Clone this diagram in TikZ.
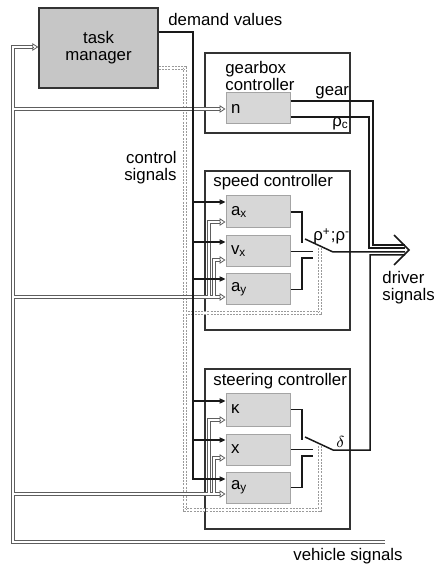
\documentclass[tikz,border=0pt]{standalone}
\usepackage{fontspec}
\setmainfont{Liberation Sans}
\usetikzlibrary{arrows.meta}

\definecolor{tmgray}{HTML}{C6C6C6}
\definecolor{boxgray}{HTML}{D7D7D7}
\definecolor{edgegray}{HTML}{A4A4A4}
\definecolor{busgray}{HTML}{5E5E5E}
\definecolor{ctrlgray}{HTML}{9A9A9A}

\begin{document}
\begin{tikzpicture}[x=0.5pt,y=-0.5pt,
    font=\fontsize{8.4}{8.6}\selectfont,
    tmbox/.style={draw=black!80,fill=tmgray,line width=0.7pt,minimum width=59.5pt,minimum height=40pt,align=center},
    unit/.style={draw=black!80,line width=0.8pt,inner sep=0pt},
    block/.style={draw=edgegray,fill=boxgray,line width=0.5pt,minimum height=15.5pt,text width=27pt,inner xsep=2.5pt,inner ysep=0pt,align=left},
    sig/.style={draw=black!90,line width=0.75pt},
    sigtip/.style={sig,-{Triangle[length=3pt,width=2.6pt]}},
    vbus/.style={draw=busgray,line width=0.45pt,double=white,double distance=1.1pt},
    vtip/.style={draw=busgray,line width=0.4pt,-{Triangle[open,length=3pt,width=3.8pt]}},
    cbus/.style={draw=ctrlgray,line width=0.4pt,double=white,double distance=1.2pt,dash pattern=on 1pt off 0.6pt},
    lbl/.style={inner sep=0pt,align=left}]
\useasboundingbox (0,0) rectangle (433,565);

% controllers
\node[tmbox] (tm) at (98.5,48) {task\\manager};
\node[unit,minimum width=72.5pt,minimum height=40pt] (gbox) at (277.5,93) {};
\node[unit,minimum width=72.5pt,minimum height=79.5pt] (sbox) at (277.5,250.5) {};
\node[unit,minimum width=72.5pt,minimum height=80pt] (stbox) at (277.5,449) {};

% inner blocks
\node[block] (n) at (258,108.5) {n};
\node[block,minimum height=16pt] (ax) at (258,212) {a\textsubscript{x}};
\node[block] (vx) at (258,251.5) {v\textsubscript{x}};
\node[block] (ay) at (258,289.5) {a\textsubscript{y}};
\node[block,minimum height=16.5pt] (kap) at (258,409.5) {κ};
\node[block] (xx) at (258,449.5) {x};
\node[block] (ay2) at (258,487.5) {a\textsubscript{y}};

% labels
\node[lbl,anchor=base west] at (168,26) {demand values};
\node[lbl,anchor=west] at (225,76) {gearbox\\controller};
\node[lbl,anchor=base west] at (315,96) {gear};
\node[lbl,anchor=base west] at (332,127) {ρ\textsubscript{c}};
\node[lbl,anchor=east,align=right] at (177,168) {control\\signals};
\node[lbl,anchor=base west] at (213,187) {speed controller};
\node[lbl,anchor=base west] at (313,241) {ρ\textsuperscript{+};ρ\textsuperscript{-}};
\node[lbl,anchor=base west] at (213,385) {steering controller};
\node[lbl,anchor=base west] at (336,447) {$\delta$};
\node[lbl,anchor=west] at (382,288) {driver\\signals};
\node[lbl,anchor=base west] at (293,560) {vehicle signals};

% control signals (dashed)
\draw[cbus] (tm.east |- 0,68) -- (185,68) -- (185,510) -- (320,510) -- (320,445)
  (185,313) -- (320,313) -- (320,248);

% vehicle signals (hollow)
\coordinate (vb) at (13,542);
\coordinate (vt) at (13,47);
\draw[vbus] (385,542) -- (vb) -- (vt) -- (33,47)
  (13,109) -- (220,109)
  (13,297) -- (220,297)
  (13,494) -- (220,494)
  (209,297) |- (220,222)
  (214,297) |- (220,260)
  (209,494) |- (220,420)
  (214,494) |- (220,458);
\draw[vtip] (33,47) -- (tm.west |- 0,47);
\foreach \blk/\yy in {n/109, ax/222, vx/260, ay/297, kap/420, xx/458, ay2/494}
  \draw[vtip] (220,\yy) -- (\blk.west |- 0,\yy);

% demand values
\coordinate (dv) at (193,32);
\coordinate (dvend) at (193,479);
\draw[sigtip] (tm.east |- dv) -- (dv) -- (dvend) -- (ay2.west |- dvend);
\foreach \blk/\yy in {ax/202, vx/242, ay/279, kap/401, xx/440}
  \draw[sigtip] (193,\yy) -- (\blk.west |- 0,\yy);

% gearbox outputs
\coordinate (drv) at (409,250);
\draw[sig] (n.east |- 0,101) -| (373,245) -- (405,245);
\draw[sig] (n.east |- 0,117) -| (369,248) -- (405,248);

% speed selector
\coordinate (sp) at (333,252);
\draw[sig] (ax.east) -| (302,243);
\draw[sig] (vx.east) -- (313,251.5);
\draw[sig] (ay.east) -| (302,258) -- (313,258);
\draw[sig] (305,239) -- (sp) -- (405,252);

% steering selector
\coordinate (tp) at (333,450);
\draw[sig] (kap.east) -| (302,440);
\draw[sig] (xx.east) -- (313,449.5);
\draw[sig] (ay2.east) -| (302,456) -- (313,456);
\draw[sig] (305,437) -- (tp) -| (370,255) -- (405,255);

% driver signals
\draw[sig,line join=miter] (394,235) -- (drv) -- (394,265);
\end{tikzpicture}
\end{document}
